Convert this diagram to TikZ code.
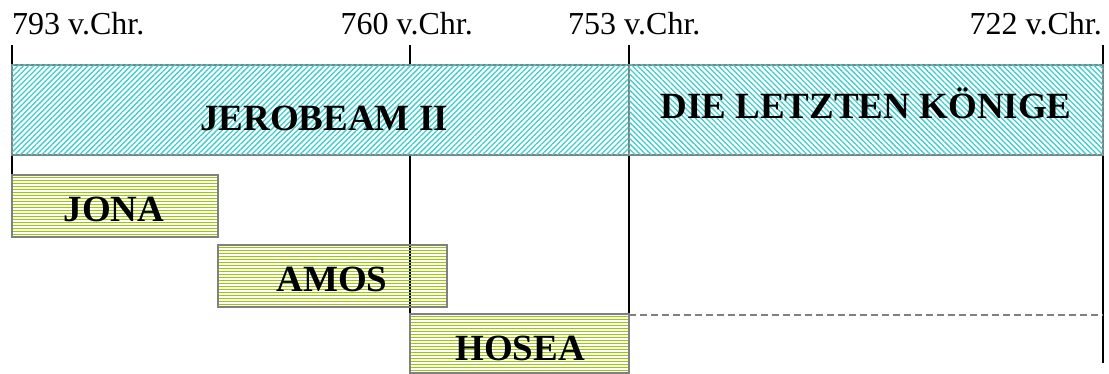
\documentclass[tikz,border=0pt]{standalone}
\usepackage{fontspec}
\setmainfont{Liberation Serif}
\usetikzlibrary{patterns.meta}
\definecolor{hatchcyan}{RGB}{60,206,206}
\definecolor{stripegreen}{RGB}{153,204,0}
\begin{document}
\begin{tikzpicture}[x=1pt,y=-1pt,
    yearlbl/.style={inner sep=0pt,font=\fontsize{32}{38}\selectfont},
    period/.style={inner sep=0pt,anchor=base,font=\fontsize{37}{44}\selectfont\bfseries},
    tick/.style={line width=2pt},
    frame/.style={draw=gray,line width=2pt},
    kings/.style={frame,fill=white,postaction={pattern={Lines[angle=#1,distance=3.8pt,line width=1.3pt]},pattern color=hatchcyan}},
    prophet/.style={frame,path picture={
        \foreach \s in {2.5,5.5,...,70}
          \draw[stripegreen,line width=1pt] ([yshift=-\s pt]path picture bounding box.north west) -- ([yshift=-\s pt]path picture bounding box.north east);}}]
        \useasboundingbox (0,0) rectangle (1109,374);
        % years
        \node[yearlbl,anchor=base west] (y793) at (12,35) {793 v.Chr.};
        \node[yearlbl,anchor=base east] (y760) at (473,35) {760 v.Chr.};
        \node[yearlbl,anchor=base west] (y753) at (568,35) {753 v.Chr.};
        \node[yearlbl,anchor=base east] (y722) at (1102,35) {722 v.Chr.};
        \coordinate (t793) at (12,45);   \coordinate (b793) at (12,225);
        \coordinate (t760) at (410,45);  \coordinate (b760) at (410,372);
        \coordinate (t753) at (629,45);  \coordinate (b753) at (629,363);
        \coordinate (t722) at (1103,45); \coordinate (b722) at (1103,363);
        \draw[tick] (t793) -- (b793);
        \draw[tick] (t760) -- (b760);
        \draw[tick] (t753) -- (b753);
        \draw[tick] (t722) -- (b722);
        % kings
        \draw[kings=45] (12,65) rectangle (629,155);
        \draw[kings=-45] (629,65) rectangle (1103,155);
        \node[period] (jerobeam) at (324,131) {JEROBEAM II};
        \node[period] (letzte) at (866,119) {DIE LETZTEN KÖNIGE};
        % prophets
        \draw[prophet] (12,175) rectangle (218,237);
        \draw[prophet] (218,245) rectangle (447,307);
        \draw[prophet] (410,314) rectangle (629,373);
        \node[period] (jona) at (114,222) {JONA};
        \node[period] (amos) at (332,291) {AMOS};
        \node[period] (hosea) at (520,360) {HOSEA};
        \coordinate (d1) at (629,315); \coordinate (d2) at (1103,315);
        \draw[gray,line width=2.2pt,dash pattern=on 7pt off 4pt] (d1) -- (d2);
\end{tikzpicture}
\end{document}
